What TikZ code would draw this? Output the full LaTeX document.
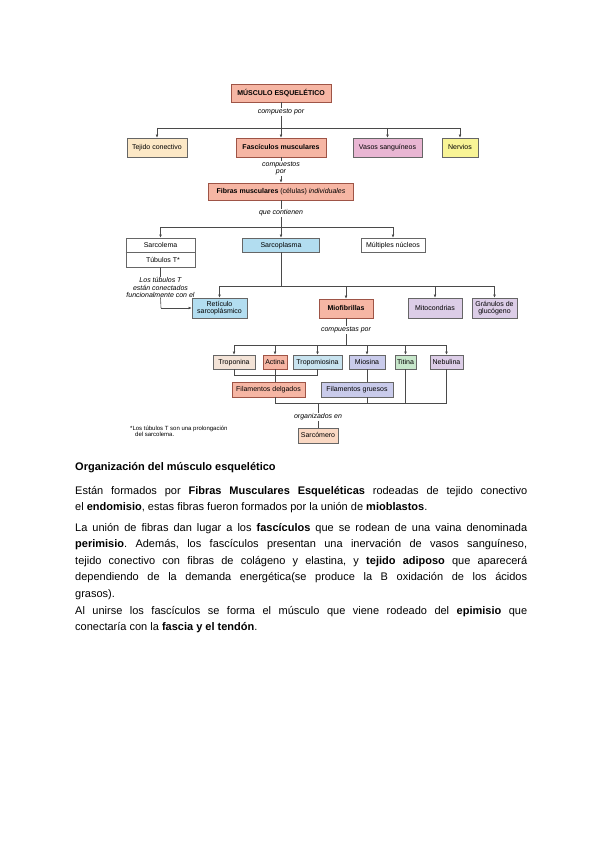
\documentclass[tikz,border=0pt]{standalone}
\usepackage{fontspec}
\setmainfont{Liberation Sans}
\usetikzlibrary{arrows.meta}
\definecolor{salmon}{HTML}{F6B6A4}
\definecolor{salmonb}{HTML}{9E5446}
\definecolor{cream}{HTML}{FCE8C6}
\definecolor{pinkv}{HTML}{E9B6D3}
\definecolor{yel}{HTML}{F8F496}
\definecolor{lblue}{HTML}{B2DDF0}
\definecolor{lav}{HTML}{DCCDE7}
\definecolor{beige}{HTML}{F3E3D7}
\definecolor{tblue}{HTML}{C8E3EF}
\definecolor{peri}{HTML}{C9CBEB}
\definecolor{lgreen}{HTML}{C7E7CB}
\definecolor{peach}{HTML}{FAD8C3}
\definecolor{bordg}{HTML}{666666}
\definecolor{linec}{HTML}{4A4A4A}
\newcommand{\dfont}{\fontsize{7}{7.6}\selectfont}
\tikzset{
  boxbase/.style={draw=bordg, line width=0.75pt, inner sep=0pt, font=\dfont},
  box/.style={boxbase, text height=4.6pt, text depth=0pt},
  mbox/.style={boxbase, align=center},
  sbox/.style={box, draw=salmonb, fill=salmon},
  conn/.style={draw=linec, line width=0.6pt},
  arr/.style={conn, -{Latex[length=3pt,width=2.8pt]}},
  lbl/.style={font=\dfont\itshape, fill=white, inner sep=0.6pt, align=center},
  para/.style={anchor=base west, inner sep=0pt, font=\fontsize{11}{13}\selectfont\frenchspacing},
}
\begin{document}
\begin{tikzpicture}[x=1pt,y=-1pt]
\useasboundingbox[fill=white] (0,0) rectangle (599,848);
% level 0
\node[sbox, minimum width=100pt, minimum height=18pt] (mus) at (281,93) {\textbf{MÚSCULO ESQUELÉTICO}};
% level 1
\node[box, fill=cream, minimum width=60pt, minimum height=19pt] (tej) at (157,147.5) {Tejido conectivo};
\node[sbox, minimum width=90pt, minimum height=19pt] (fas) at (281,147.5) {\textbf{Fascículos musculares}};
\node[box, fill=pinkv, minimum width=69pt, minimum height=19pt] (vas) at (387.5,147.5) {Vasos sanguíneos};
\node[box, fill=yel, minimum width=36pt, minimum height=19pt] (ner) at (460,147.5) {Nervios};
% level 2
\node[sbox, minimum width=145pt, minimum height=17pt] (fib) at (281,191.5) {\textbf{Fibras musculares} (células) \textit{individuales}};
% level 3
\node[box, fill=white, minimum width=69pt, minimum height=29pt] (sarc) at (160.5,252.5) {};
\draw[draw=bordg, line width=0.75pt] (sarc.west) -- (sarc.east);
\node[font=\dfont, inner sep=0pt, text height=4.6pt, text depth=0pt] (sarct) at (160.5,245.5) {Sarcolema};
\node[font=\dfont, inner sep=0pt, text height=4.6pt, text depth=0pt] (tubt) at (163,260) {Túbulos T*};
\node[box, fill=lblue, minimum width=77pt, minimum height=14pt] (spl) at (281,245) {Sarcoplasma};
\node[box, fill=white, minimum width=64pt, minimum height=14pt] (mul) at (393,245) {Múltiples núcleos};
% level 4
\node[mbox, fill=lblue, minimum width=55pt, minimum height=20pt] (ret) at (219.5,308) {Retículo\\sarcoplásmico};
\node[sbox, minimum width=54pt, minimum height=19pt] (mio) at (346,308.5) {\textbf{Miofibrillas}};
\node[box, fill=lav, minimum width=54pt, minimum height=20pt] (mit) at (435,308) {Mitocondrias};
\node[mbox, fill=lav, minimum width=45pt, minimum height=20pt] (gra) at (494.5,308) {Gránulos de\\glucógeno};
% level 5
\node[box, fill=beige, minimum width=42pt, minimum height=14pt] (tro) at (234,362) {Troponina};
\node[sbox, minimum width=24pt, minimum height=14pt] (act) at (275,362) {Actina};
\node[box, fill=tblue, minimum width=49pt, minimum height=14pt] (tpm) at (317.5,362) {Tropomiosina};
\node[box, fill=peri, minimum width=36pt, minimum height=14pt] (mis) at (367,362) {Miosina};
\node[box, fill=lgreen, minimum width=21pt, minimum height=14pt] (tit) at (405.5,362) {Titina};
\node[box, fill=lav, minimum width=33pt, minimum height=14pt] (neb) at (446.5,362) {Nebulina};
% level 6
\node[sbox, minimum width=73pt, minimum height=15pt] (fde) at (268.5,389.5) {Filamentos delgados};
\node[box, fill=peri, minimum width=72pt, minimum height=15pt] (fgr) at (357,389.5) {Filamentos gruesos};
% level 7
\node[box, fill=peach, minimum width=40pt, minimum height=15pt] (smr) at (318,435.5) {Sarcómero};

% helper coordinates (horizontal rails)
\coordinate (h1) at (0,128);
\coordinate (h2) at (0,227);
\coordinate (h3) at (0,286);
\coordinate (h4) at (0,345);
\coordinate (h5) at (0,375);
\coordinate (h6) at (0,403);

% connectors level 0 -> 1
\draw[conn] (mus.south) -- (mus.south |- h1);
\draw[conn] (tej.north |- h1) -- (ner.north |- h1);
\foreach \n in {tej,fas,vas,ner} \draw[arr] (\n.north |- h1) -- (\n.north);
\node[lbl] (l1) at (281,112) {compuesto por};
% fas -> fib
\draw[arr] (fas.south) -- (fib.north);
\node[lbl] (l2) at (281,168.5) {compuestos\\por};
% fib -> level 3
\draw[conn] (fib.south) -- (fib.south |- h2);
\draw[conn] (sarc.north |- h2) -- (mul.north |- h2);
\foreach \n in {sarc,spl,mul} \draw[arr] (\n.north |- h2) -- (\n.north);
\node[lbl] (l3) at (281,213) {que contienen};
% sarcoplasma -> level 4
\draw[conn] (spl.south) -- (spl.south |- h3);
\draw[conn] (ret.north |- h3) -- (gra.north |- h3);
\foreach \n in {ret,mio,mit,gra} \draw[arr] (\n.north |- h3) -- (\n.north);
% sarcolema note
\node[font=\fontsize{7}{7.2}\selectfont\itshape, inner sep=0pt, align=center] (tnote) at (160.5,287.5) {Los túbulos T\\están conectados\\funcionalmente con el};
\draw[conn] (sarc.south) -- (tnote.north);
\coordinate (tc) at (161,308);
\draw[conn] (tnote.south) -- (tc);
\draw[arr] (tc) -- (ret.west |- tc);
% miofibrillas -> level 5
\draw[conn] (mio.south) -- (mio.south |- h4);
\draw[conn] (tro.north |- h4) -- (neb.north |- h4);
\foreach \n in {tro,act,tpm,mis,tit,neb} \draw[arr] (\n.north |- h4) -- (\n.north);
\node[lbl] (l4) at (346,330) {compuestas por};
% troponina / tropomiosina join
\draw[conn] (tro.south) -- (tro.south |- h5) -- (tpm.south |- h5) -- (tpm.south);
\draw[conn] (act.south) -- (act.south |- fde.north);
\draw[conn] (mis.south) -- (mis.south |- fgr.north);
% bottom rail
\draw[conn] (act.south |- fde.south) -- (act.south |- h6) -- (neb.south |- h6);
\draw[conn] (mis.south |- fgr.south) -- (mis.south |- h6);
\draw[conn] (tit.south) -- (tit.south |- h6);
\draw[conn] (neb.south) -- (neb.south |- h6);
\draw[conn] (smr.north |- h6) -- (smr.north);
\node[lbl] (l5) at (318,417) {organizados en};
% footnote
\node[anchor=north west, font=\fontsize{6}{6.6}\selectfont, inner sep=0pt, align=left] (foot) at (130,425.5) {*Los túbulos T son una prolongación\\\hspace*{5pt}del sarcolema.};

% text
\node[para] (p1) at (75,470) {\textbf{Organización del músculo esquelético}};
\node[para] (p2) at (75,494) {\makebox[452pt][s]{Están formados por \textbf{Fibras Musculares Esqueléticas} rodeadas de tejido conectivo}};
\node[para] (p3) at (75,510) {el \textbf{endomisio}, estas fibras fueron formados por la unión de \textbf{mioblastos}.};
\node[para] (p4) at (75,531) {\makebox[452pt][s]{La unión de fibras dan lugar a los \textbf{fascículos} que se rodean de una vaina denominada}};
\node[para] (p5) at (75,547.5) {\makebox[452pt][s]{\textbf{perimisio}. Además, los fascículos presentan una inervación de vasos sanguíneso,}};
\node[para] (p6) at (75,564) {\makebox[452pt][s]{tejido conectivo con fibras de colágeno y elastina, y \textbf{tejido adiposo} que aparecerá}};
\node[para] (p7) at (75,580.5) {\makebox[452pt][s]{dependiendo de la demanda energética(se produce la B oxidación de los ácidos}};
\node[para] (p8) at (75,597) {grasos).};
\node[para] (p9) at (75,614) {\makebox[452pt][s]{Al unirse los fascículos se forma el músculo que viene rodeado del \textbf{epimisio} que}};
\node[para] (p10) at (75,630.5) {conectaría con la \textbf{fascia y el tendón}.};
\end{tikzpicture}
\end{document}
